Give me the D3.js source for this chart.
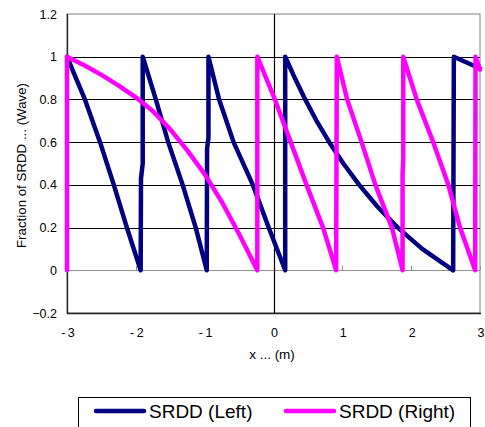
<!DOCTYPE html>
<html>
<head>
<meta charset="utf-8">
<script src="https://cdn.jsdelivr.net/npm/d3@7"></script>
<style>
  body { margin: 0; background: #fff; }
  svg { display: block; font-family: "Liberation Sans", Arial, sans-serif; }
</style>
</head>
<body>
<svg id="chart" width="485" height="427"></svg>
<script>
"use strict";

// values
const left_x = [-3.00, -2.87, -2.74, -2.52, -2.32, -2.13, -1.93, -1.925, -1.90, -1.90, -1.71, -1.53, -1.32, -1.13, -0.97, -0.965, -0.945, -0.945,
    -0.79, -0.58, -0.30, -0.07, 0.17, 0.17, 0.31, 0.46, 0.625, 0.81, 1.015, 1.245, 1.505, 1.805, 2.16, 2.61, 2.62, 3.00];
const left_y = [1.00, 0.90, 0.80, 0.60, 0.40, 0.20, 0.00, 0.43, 0.50, 1.00, 0.80, 0.60, 0.40, 0.20, 0.00, 0.57, 0.62, 1.00,
    0.80, 0.60, 0.40, 0.20, 0.00, 1.00, 0.90, 0.80, 0.70, 0.60, 0.50, 0.40, 0.30, 0.20, 0.10, 0.00, 1.00, 0.945];

const right_x = [-3.00, -3.00, -2.75, -2.50, -2.25, -2.00, -1.75, -1.50, -1.25, -1.00, -0.75, -0.50, -0.235, -0.235,
    0.02, 0.25, 0.48, 0.72, 0.91, 0.92, 1.07, 1.28, 1.48, 1.72, 1.875, 1.875, 1.885, 1.885,
    2.08, 2.32, 2.54, 2.71, 2.93, 2.935, 3.00];
const right_y = [0.00, 1.00, 0.96, 0.915, 0.865, 0.81, 0.745, 0.66, 0.56, 0.45, 0.32, 0.17, 0.00, 1.00,
    0.80, 0.60, 0.40, 0.20, 0.00, 1.00, 0.80, 0.60, 0.40, 0.20, 0.00, 0.45, 0.52, 1.00,
    0.80, 0.60, 0.40, 0.20, 0.00, 1.00, 0.94];

const x_ticks = [-3, -2, -1, 0, 1, 2, 3];
const y_ticks = [-0.2, 0, 0.2, 0.4, 0.6, 0.8, 1, 1.2];
const grid_values = [0.2, 0.4, 0.6, 0.8, 1];

const series_names = ["SRDD (Left)", "SRDD (Right)"];
const series_colors = ["#000080", "#ff00ff"];

const plot_left = 67, plot_right = 480, plot_top = 14, plot_bottom = 313;

const svg = d3.select("#chart");

const x = d3.scaleLinear().domain([-3, 3]).range([plot_left, plot_right]);
const y = d3.scaleLinear().domain([-0.2, 1.2]).range([plot_bottom, plot_top]);

// plot area border
svg.append("rect")
    .attr("x", plot_left)
    .attr("y", plot_top)
    .attr("width", plot_right - plot_left)
    .attr("height", plot_bottom - plot_top)
    .attr("fill", "none")
    .attr("stroke", "#808080")
    .attr("stroke-width", 1);

// horizontal gridlines
svg.selectAll(".grid")
    .data(grid_values)
    .enter().append("line")
    .attr("class", "grid")
    .attr("x1", plot_left)
    .attr("x2", plot_right)
    .attr("y1", d => Math.round(y(d)) + 0.5)
    .attr("y2", d => Math.round(y(d)) + 0.5)
    .attr("stroke", "#000")
    .attr("stroke-width", 1);

// zero line with ticks
svg.append("line")
    .attr("x1", plot_left)
    .attr("x2", plot_right)
    .attr("y1", Math.round(y(0)) + 0.5)
    .attr("y2", Math.round(y(0)) + 0.5)
    .attr("stroke", "#909090");

svg.selectAll(".xtick")
    .data(x_ticks)
    .enter().append("line")
    .attr("class", "xtick")
    .attr("x1", d => Math.round(x(d)) + 0.5)
    .attr("x2", d => Math.round(x(d)) + 0.5)
    .attr("y1", Math.round(y(0)))
    .attr("y2", Math.round(y(0)) - 4)
    .attr("stroke", "#909090");

// left + bottom edges drawn dark
svg.append("line")
    .attr("x1", plot_left + 0.5).attr("x2", plot_left + 0.5)
    .attr("y1", plot_top).attr("y2", plot_bottom + 1)
    .attr("stroke", "#222").attr("stroke-width", 1.3);
svg.append("line")
    .attr("x1", plot_left).attr("x2", plot_right + 1)
    .attr("y1", plot_bottom + 0.5).attr("y2", plot_bottom + 0.5)
    .attr("stroke", "#222").attr("stroke-width", 1.3);

// vertical axis at x = 0
svg.append("line")
    .attr("x1", Math.round(x(0)) + 0.5)
    .attr("x2", Math.round(x(0)) + 0.5)
    .attr("y1", plot_top)
    .attr("y2", plot_bottom + 1)
    .attr("stroke", "#000")
    .attr("stroke-width", 1.2);

// tick labels
svg.selectAll(".ylabel")
    .data(y_ticks)
    .enter().append("text")
    .attr("class", "ylabel")
    .attr("x", 57)
    .attr("y", d => y(d) + 4.5)
    .attr("text-anchor", "end")
    .attr("font-size", 12.5)
    .attr("fill", "#000")
    .text(d => d3.format("")(+d.toFixed(1)));

svg.selectAll(".xlabel")
    .data(x_ticks)
    .enter().append("text")
    .attr("class", "xlabel")
    .attr("x", d => x(d) + 1)
    .attr("y", 337)
    .attr("text-anchor", "middle")
    .attr("font-size", 12.5)
    .attr("fill", "#000")
    .text(d => d < 0 ? "-\u2009" + Math.abs(d) : String(d));

// axis titles
svg.append("text")
    .attr("transform", `translate(26, ${(plot_top + plot_bottom) / 2 + 2}) rotate(-90)`)
    .attr("text-anchor", "middle")
    .attr("font-size", 13.3)
    .text("Fraction of SRDD ... (Wave)");

svg.append("text")
    .attr("x", 272)
    .attr("y", 359)
    .attr("text-anchor", "middle")
    .attr("font-size", 13.5)
    .text("x ... (m)");

// series
const line = d3.line()
    .x(d => x(d[0]))
    .y(d => y(d[1]));

const series = [
    d3.zip(left_x, left_y),
    d3.zip(right_x, right_y)
];

series.forEach((pts, i) => {
    svg.append("path")
        .datum(pts)
        .attr("d", line)
        .attr("fill", "none")
        .attr("stroke", series_colors[i])
        .attr("stroke-width", 4.5)
        .attr("stroke-linejoin", "round")
        .attr("stroke-linecap", "round");
});

// legend
const legend = svg.append("g");
legend.append("rect")
    .attr("x", 78.5)
    .attr("y", 397.5)
    .attr("width", 392)
    .attr("height", 44)
    .attr("fill", "#fff")
    .attr("stroke", "#000");

const legend_items = [
    { sx: 96, tx: 149 },
    { sx: 286, tx: 339 }
];

legend_items.forEach((p, i) => {
    legend.append("line")
        .attr("x1", p.sx).attr("x2", p.sx + 48)
        .attr("y1", 411).attr("y2", 411)
        .attr("stroke", series_colors[i])
        .attr("stroke-width", 4.5)
        .attr("stroke-linecap", "round");
    legend.append("text")
        .attr("x", p.tx)
        .attr("y", 418)
        .attr("font-size", 19)
        .text(series_names[i]);
});
</script>
</body>
</html>
